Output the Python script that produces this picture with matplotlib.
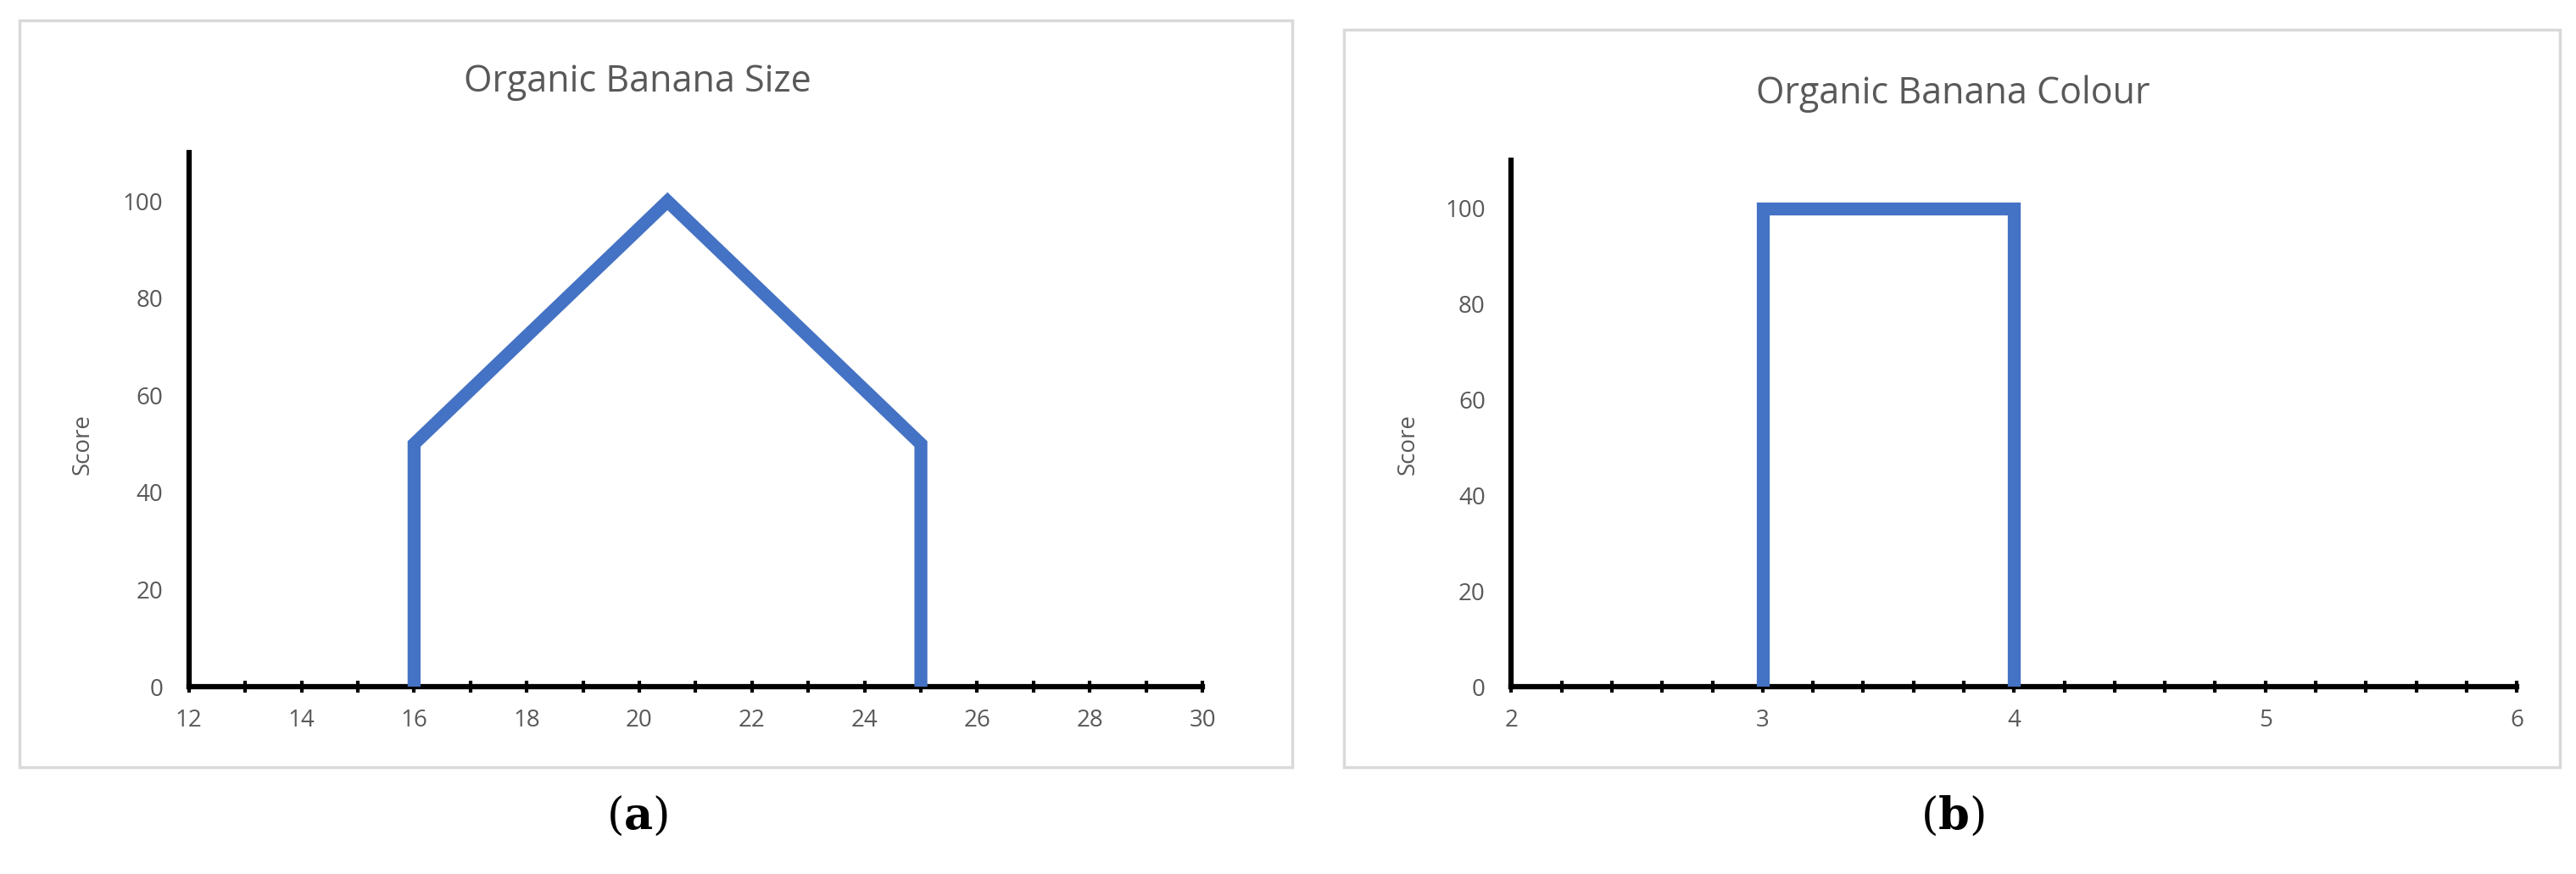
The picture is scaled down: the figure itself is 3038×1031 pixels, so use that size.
import matplotlib
matplotlib.use("Agg")
import matplotlib.pyplot as plt
from matplotlib.patches import Rectangle
import numpy as np

size_x = [16, 16, 20.5, 25, 25]
size_y = [0, 50, 100, 50, 0]
colour_x = [3, 3, 4, 4]
colour_y = [0, 100, 100, 0]
size_ticks = [12, 14, 16, 18, 20, 22, 24, 26, 28, 30]
colour_ticks = [2, 3, 4, 5, 6]
y_ticks = [0, 20, 40, 60, 80, 100]

fig = plt.figure(figsize=(30.38, 10.31), dpi=100)
plt.rcParams['font.family'] = ['Open Sans', 'DejaVu Sans']
plt.rcParams['mathtext.fontset'] = 'dejavuserif'
grey = '#595959'
blue = '#4472C4'

for rect in [(0.0077, 0.122, 0.494, 0.855), (0.5217, 0.122, 0.472, 0.844)]:
    fig.patches.append(Rectangle(rect[:2], rect[2], rect[3], transform=fig.transFigure,
                                 fill=False, edgecolor='#d9d9d9', linewidth=2.5))

def panel(pos, xs, ys, xlim, xticks, minor, title, tx, ty, sx, lab):
    ax = fig.add_axes(pos)
    ax.plot(xs, ys, color=blue, linewidth=11, solid_joinstyle='miter', zorder=3)
    ax.set_xlim(*xlim)
    ax.set_ylim(0, 110)
    ax.set_xticks(xticks)
    ax.set_xticks(minor, minor=True)
    ax.set_yticks(y_ticks)
    for s in ['top', 'right']:
        ax.spines[s].set_visible(False)
    for s in ['left', 'bottom']:
        ax.spines[s].set_linewidth(4.5)
        ax.spines[s].set_color('black')
    ax.tick_params(axis='x', which='major', direction='inout', length=10, width=3,
                   labelsize=20, labelcolor=grey, pad=14)
    ax.tick_params(axis='x', which='minor', direction='inout', length=10, width=3)
    ax.tick_params(axis='y', length=0, labelsize=20, labelcolor=grey, pad=22)
    ax.patch.set_visible(False)
    fig.text(tx, ty, title, ha='center', va='center', fontsize=31, color=grey)
    fig.text(sx, 0.492, 'Score', rotation=90, ha='center', va='center', fontsize=20, color=grey)
    fig.text(tx, 0.066, '($\\mathbf{' + lab + '}$)', ha='center', va='center', fontsize=38,
             family=['DejaVu Serif'])
    return ax

panel([0.0733, 0.2143, 0.3935, 0.611], size_x, size_y, (12, 30), size_ticks,
      np.arange(12, 31, 1), 'Organic Banana Size', 0.2474, 0.906, 0.032, 'a')
panel([0.5867, 0.2143, 0.3903, 0.602], colour_x, colour_y, (2, 6), colour_ticks,
      np.arange(2, 6.01, 0.2), 'Organic Banana Colour', 0.758, 0.893, 0.5466, 'b')
fig.savefig('out.png', dpi=100)
